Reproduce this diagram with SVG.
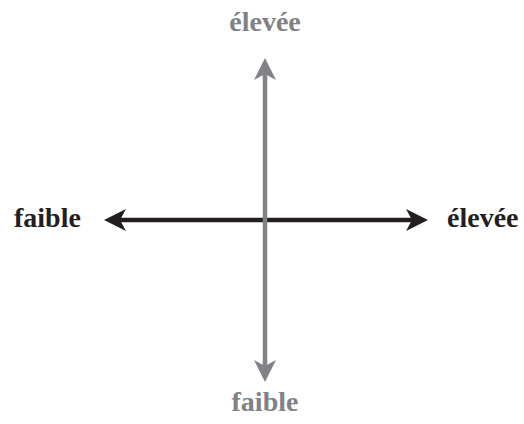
<svg xmlns="http://www.w3.org/2000/svg" width="524" height="424" viewBox="0 0 524 424">
<style>
.lbl{font-family:"Liberation Serif","Times New Roman",serif;font-weight:bold;font-size:28px}
.k{fill:#231f20}
.g{fill:#808285}
</style>
<rect width="524" height="424" fill="#ffffff"/>
<g id="connectors">
<g id="horizontal-axis">
<line x1="118" y1="220" x2="414" y2="220" stroke="#231f20" stroke-width="4.5"/>
<polygon class="k" points="104,220 126,209 120,220 126,231"/>
<polygon class="k" points="428,220 406,209 412,220 406,231"/>
</g>
<g id="vertical-axis">
<line x1="265" y1="72" x2="265" y2="368" stroke="#808285" stroke-width="4.5"/>
<polygon class="g" points="265,58 254,80 265,74 276,80"/>
<polygon class="g" points="265,382 254,360 265,366 276,360"/>
</g>
</g>
<g id="label-top"><text class="lbl g" x="265" y="31" text-anchor="middle">élevée</text></g>
<g id="label-left"><text class="lbl k" x="14" y="227">faible</text></g>
<g id="label-right"><text class="lbl k" x="447" y="227">élevée</text></g>
<g id="label-bottom"><text class="lbl g" x="265" y="411" text-anchor="middle">faible</text></g>
</svg>
